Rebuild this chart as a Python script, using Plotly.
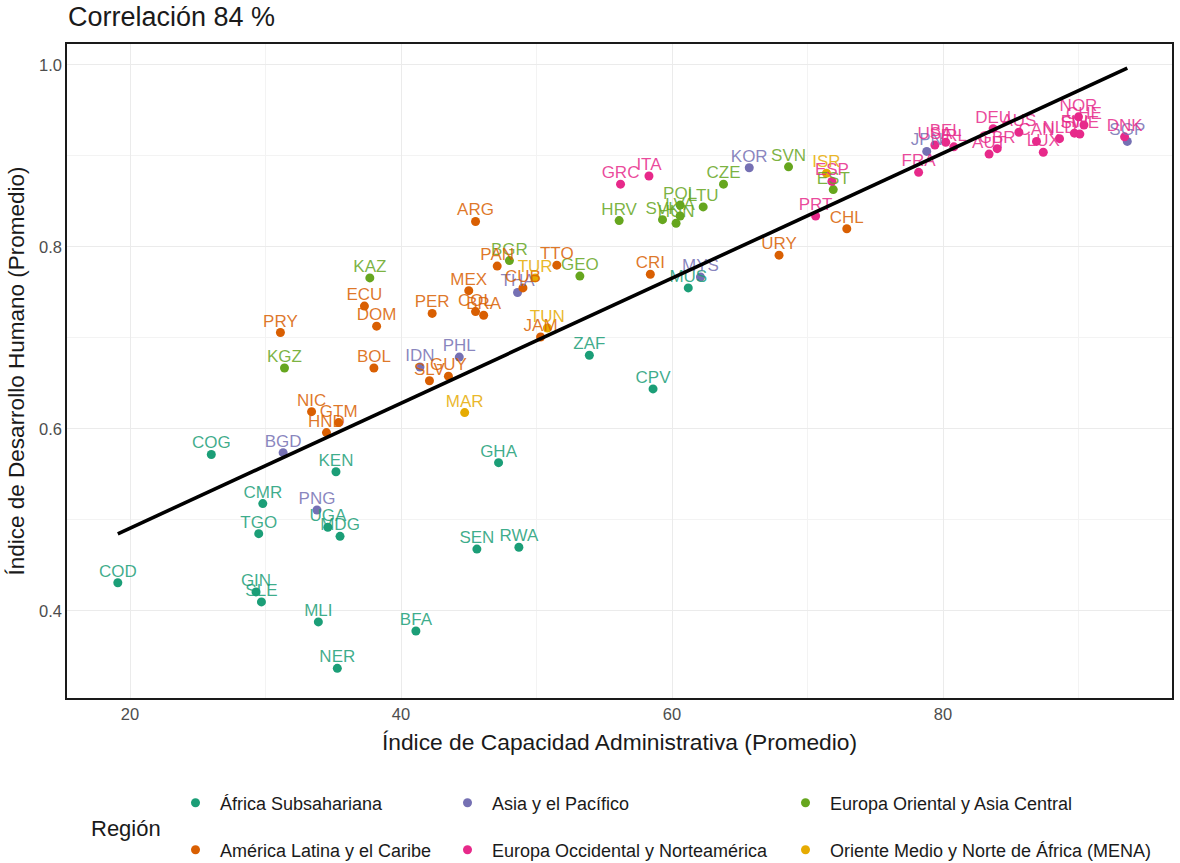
import numpy as np
import plotly.graph_objects as go

# Regions (legend order) and their colours
regions = [
    "África Subsahariana",
    "Asia y el Pacífico",
    "Europa Oriental y Asia Central",
    "América Latina y el Caribe",
    "Europa Occidental y Norteamérica",
    "Oriente Medio y Norte de África (MENA)",
]
region_colors = ["#1B9E77", "#7570B3", "#66A61E", "#D95F02", "#E7298A", "#E6AB02"]

# Country codes, administrative capacity index and human development index per region
africa_iso = ["COD", "COG", "CMR", "TGO", "GIN", "SLE", "KEN", "UGA", "MDG", "MLI",
              "NER", "BFA", "GHA", "SEN", "RWA", "ZAF", "CPV", "MUS"]
africa_cap = [19.1, 26.0, 29.8, 29.5, 29.3, 29.7, 35.2, 34.6, 35.5, 33.9,
              35.3, 41.1, 47.2, 45.6, 48.7, 53.9, 58.6, 61.2]
africa_hdi = [0.431, 0.572, 0.518, 0.485, 0.421, 0.410, 0.553, 0.492, 0.482, 0.388,
              0.337, 0.378, 0.563, 0.468, 0.470, 0.681, 0.644, 0.755]

asia_iso = ["BGD", "PNG", "IDN", "PHL", "THA", "MYS", "KOR", "JPN", "SGP"]
asia_cap = [31.3, 33.8, 41.4, 44.3, 48.6, 62.1, 65.7, 78.8, 93.6]
asia_hdi = [0.574, 0.511, 0.668, 0.679, 0.750, 0.767, 0.887, 0.905, 0.916]

east_iso = ["KAZ", "KGZ", "BGR", "GEO", "HRV", "SVK", "HUN", "LVA", "POL", "LTU",
            "CZE", "SVN", "EST"]
east_cap = [37.7, 31.4, 48.0, 53.2, 56.1, 59.3, 60.3, 60.6, 60.6, 62.3,
            63.8, 68.6, 71.9]
east_hdi = [0.766, 0.667, 0.785, 0.768, 0.829, 0.830, 0.826, 0.834, 0.846, 0.844,
            0.869, 0.888, 0.863]

latam_iso = ["ARG", "PAN", "TTO", "CUB", "MEX", "PER", "COL", "BRA", "ECU", "DOM",
             "PRY", "BOL", "SLV", "GUY", "JAM", "NIC", "GTM", "HND", "CRI", "URY", "CHL"]
latam_cap = [45.5, 47.1, 51.5, 49.0, 45.0, 42.3, 45.5, 46.1, 37.3, 38.2,
             31.1, 38.0, 42.1, 43.5, 50.3, 33.4, 35.4, 34.5, 58.4, 67.9, 72.9]
latam_hdi = [0.828, 0.779, 0.780, 0.755, 0.752, 0.727, 0.729, 0.725, 0.735, 0.713,
             0.706, 0.667, 0.653, 0.658, 0.701, 0.619, 0.607, 0.596, 0.770, 0.791, 0.820]

west_iso = ["GRC", "ITA", "PRT", "ESP", "FRA", "USA", "BEL", "IRL", "DEU", "AUT",
            "GBR", "AUS", "CAN", "LUX", "NLD", "NOR", "FIN", "SWE", "CHE", "DNK"]
west_cap = [56.2, 58.3, 70.6, 71.8, 78.2, 79.4, 80.2, 80.8, 83.7, 83.4,
            84.0, 85.6, 86.9, 87.4, 88.6, 90.0, 89.7, 90.1, 90.4, 93.4]
west_hdi = [0.869, 0.878, 0.834, 0.872, 0.882, 0.912, 0.915, 0.910, 0.930, 0.902,
            0.908, 0.926, 0.916, 0.904, 0.919, 0.943, 0.925, 0.924, 0.934, 0.921]

mena_iso = ["MAR", "TUN", "TUR", "ISR"]
mena_cap = [44.7, 50.8, 49.9, 71.4]
mena_hdi = [0.618, 0.711, 0.766, 0.881]

groups = [
    (africa_iso, africa_cap, africa_hdi),
    (asia_iso, asia_cap, asia_hdi),
    (east_iso, east_cap, east_hdi),
    (latam_iso, latam_cap, latam_hdi),
    (west_iso, west_cap, west_hdi),
    (mena_iso, mena_cap, mena_hdi),
]

title_text = "Correlación 84 %"
x_title = "Índice de Capacidad Administrativa (Promedio)"
y_title = "Índice de Desarrollo Humano (Promedio)"
legend_title = "Región"

FONT = "Liberation Sans, Arial, sans-serif"

# Plot panel geometry (pixels)
W, H = 1180, 863
ML, MR, MT, MB = 67, 8, 44, 165
PW, PH = W - ML - MR, H - MT - MB


def rgba(hex_color, a):
    h = hex_color.lstrip("#")
    r, g, b = int(h[0:2], 16), int(h[2:4], 16), int(h[4:6], 16)
    return f"rgba({r},{g},{b},{a})"


def py(pix_y):
    """Pixel row (from top) to paper y."""
    return (H - MB - pix_y) / PH


def px(pix_x):
    """Pixel column to paper x."""
    return (pix_x - ML) / PW


# Legend grid: three columns, two rows (one single-entry legend per cell)
legend_cols_px = [171, 443, 781]
legend_rows_px = [803, 850]
legend_ids = ["legend", "legend2", "legend3", "legend4", "legend5", "legend6"]

fig = go.Figure()

# Points, one trace per region
for i, (name, color, (iso, cap, hdi)) in enumerate(zip(regions, region_colors, groups)):
    fig.add_trace(go.Scatter(
        x=cap, y=hdi, name=name, mode="markers",
        marker=dict(color=color, size=9),
        legend=legend_ids[i],
        hovertext=iso,
    ))

# Country code labels just above each point
for name, color, (iso, cap, hdi) in zip(regions, region_colors, groups):
    fig.add_trace(go.Scatter(
        x=cap, y=hdi, text=iso, mode="markers+text", textposition="top center",
        marker=dict(size=1.2, color="rgba(0,0,0,0)"),
        textfont=dict(family=FONT, size=17, color=rgba(color, 0.85)),
        showlegend=False, hoverinfo="skip",
    ))

# Linear fit across all countries
all_x = np.concatenate([np.array(g[1], float) for g in groups])
all_y = np.concatenate([np.array(g[2], float) for g in groups])
slope, intercept = np.polyfit(all_x, all_y, 1)
fit_x = np.array([all_x.min(), all_x.max()])
fig.add_trace(go.Scatter(
    x=fit_x, y=slope * fit_x + intercept, mode="lines",
    line=dict(color="black", width=3.6), showlegend=False, hoverinfo="skip",
))

layout_legends = {}
for i, lid in enumerate(legend_ids):
    layout_legends[lid] = dict(
        orientation="v", xanchor="left", yanchor="middle",
        x=px(legend_cols_px[i % 3]), y=py(legend_rows_px[i // 3]),
        itemwidth=39,
        font=dict(family=FONT, size=18, color="#1A1A1A"), bgcolor="rgba(0,0,0,0)",
        itemclick=False, itemdoubleclick=False,
    )

fig.update_layout(
    width=W, height=H,
    margin=dict(l=ML, r=MR, t=MT, b=MB, autoexpand=False),
    paper_bgcolor="white", plot_bgcolor="white",
    font=dict(family=FONT, color="#1A1A1A"),
    title=dict(text=title_text, x=px(68), xref="paper", xanchor="left",
               y=1 - 17 / H, yanchor="middle",
               font=dict(size=27, color="#1A1A1A")),
    showlegend=True,
    **layout_legends,
)

fig.add_annotation(text=legend_title, xref="paper", yref="paper",
                   x=px(89), xanchor="left", y=py(828), yanchor="middle",
                   showarrow=False, font=dict(family=FONT, size=22, color="#1A1A1A"))

axis_common = dict(
    showgrid=True, gridcolor="#EBEBEB", gridwidth=1.2,
    showline=True, linecolor="#1A1A1A", linewidth=1.6, mirror=True,
    zeroline=False, ticks="",
    tickfont=dict(family=FONT, size=16.5, color="#4D4D4D"),
)

fig.update_xaxes(
    range=[15.35, 96.9], tickvals=[20, 40, 60, 80],
    minor=dict(tickvals=[30, 50, 70, 90], showgrid=True, gridcolor="#F3F3F3", gridwidth=1),
    title=dict(text=x_title, font=dict(family=FONT, size=22.8, color="#1A1A1A"), standoff=12),
    **axis_common,
)
fig.update_yaxes(
    range=[0.3044, 1.023], tickvals=[0.4, 0.6, 0.8, 1.0], ticktext=["0.4", "0.6", "0.8", "1.0"],
    minor=dict(tickvals=[0.5, 0.7, 0.9], showgrid=True, gridcolor="#F3F3F3", gridwidth=1),
    title=dict(text=y_title, font=dict(family=FONT, size=22.5, color="#1A1A1A"), standoff=8),
    **axis_common,
)

fig.write_html("out.html")
